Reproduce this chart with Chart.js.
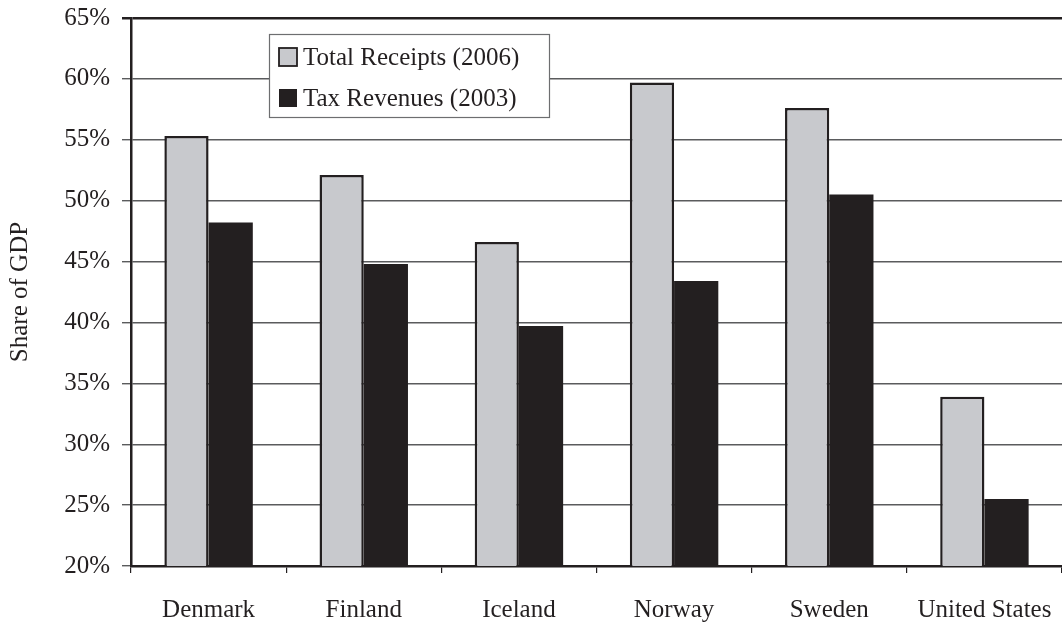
<!DOCTYPE html>
<html>
<head>
<meta charset="utf-8">
<script src="https://cdn.jsdelivr.net/npm/chart.js@4/dist/chart.umd.min.js"></script>
<style>
  html, body { margin: 0; padding: 0; background: #fff; }
  #wrap { width: 1062px; height: 623px; }
</style>
</head>
<body>
<div id="wrap"><canvas id="gdpChart" width="1062" height="623"></canvas></div>
<script>
// Data
const countries = ["Denmark", "Finland", "Iceland", "Norway", "Sweden", "United States"];
const totalReceipts = [55.3, 52.1, 46.6, 59.7, 57.6, 33.9];
const taxRevenues = [48.2, 44.8, 39.7, 43.4, 50.5, 25.5];
const seriesLabels = ["Total Receipts (2006)", "Tax Revenues (2003)"];
const yTicks = [20, 25, 30, 35, 40, 45, 50, 55, 60, 65];

const FONT = "'Liberation Serif', 'Times New Roman', serif";
const INK = "#231f20";
const GREY = "#c8c9cd";
const GRID = "#5a5b5d";

// legend box drawn inside the plot area
const boxLegend = {
    id: "boxLegend",
    afterDraw(chart) {
        let ctx = chart.ctx;
        let area = chart.chartArea;
        let x = area.left + 138, y = area.top + 16;
        let w = 280, h = 83;
        ctx.save();
        ctx.fillStyle = "#fff";
        ctx.fillRect(x, y, w, h);
        ctx.strokeStyle = "#6d6e70";
        ctx.lineWidth = 1.2;
        ctx.strokeRect(x + 0.5, y + 0.5, w, h);
        ctx.font = "25px " + FONT;
        ctx.textBaseline = "middle";
        chart.data.datasets.forEach((ds, i) => {
            let cy = y + 23 + i * 41;
            ctx.fillStyle = ds.backgroundColor;
            ctx.fillRect(x + 10, cy - 9, 18, 18);
            if (ds.borderWidth) {
                ctx.strokeStyle = INK;
                ctx.lineWidth = 1.8;
                ctx.strokeRect(x + 10, cy - 9, 18, 18);
            }
            ctx.fillStyle = INK;
            ctx.fillText(ds.label, x + 34, cy + 1);
        });
        ctx.restore();
    }
};

new Chart(document.getElementById("gdpChart"), {
    type: "bar",
    data: {
        labels: countries,
        datasets: [{
            label: seriesLabels[0],
            data: totalReceipts,
            backgroundColor: GREY,
            borderColor: INK,
            borderWidth: 2.5
        }, {
            label: seriesLabels[1],
            data: taxRevenues,
            backgroundColor: INK,
            borderWidth: 0
        }]
    },
    options: {
        responsive: false,
        animation: false,
        devicePixelRatio: 1,
        layout: { padding: { top: 18, right: 0, left: 0, bottom: 0 } },
        datasets: { bar: { categoryPercentage: 0.57, barPercentage: 1.0 } },
        plugins: {
            legend: { display: false },
            tooltip: { enabled: false }
        },
        scales: {
            x: {
                afterFit: scale => {
                    scale.height = 57;
                    scale.paddingLeft = 0;
                    scale.paddingRight = 0;
                },
                grid: {
                    offset: true,
                    drawOnChartArea: false,
                    tickLength: 7,
                    color: INK,
                    lineWidth: 1.2
                },
                border: { display: true, color: INK, width: 2.5 },
                ticks: {
                    color: INK,
                    padding: 22,
                    font: { family: FONT, size: 25 }
                }
            },
            y: {
                min: yTicks[0],
                max: yTicks[yTicks.length - 1],
                afterFit: scale => {
                    scale.width = 131;
                    scale.paddingTop = 0;
                    scale.paddingBottom = 0;
                },
                afterBuildTicks: scale => { scale.ticks = yTicks.map(v => ({ value: v })); },
                grid: {
                    tickLength: 9,
                    color: ctx => ctx.tick && ctx.tick.value === 65 ? INK : GRID,
                    lineWidth: ctx => ctx.tick && ctx.tick.value === 65 ? 2.5 : 1.4
                },
                border: { display: true, color: INK, width: 2.5 },
                ticks: {
                    color: INK,
                    padding: 12,
                    font: { family: FONT, size: 25 },
                    callback: v => v + "%"
                },
                title: {
                    display: true,
                    text: "Share of GDP",
                    color: INK,
                    font: { family: FONT, size: 25 },
                    padding: { top: 5, bottom: 0 }
                }
            }
        }
    },
    plugins: [boxLegend]
});
</script>
</body>
</html>
